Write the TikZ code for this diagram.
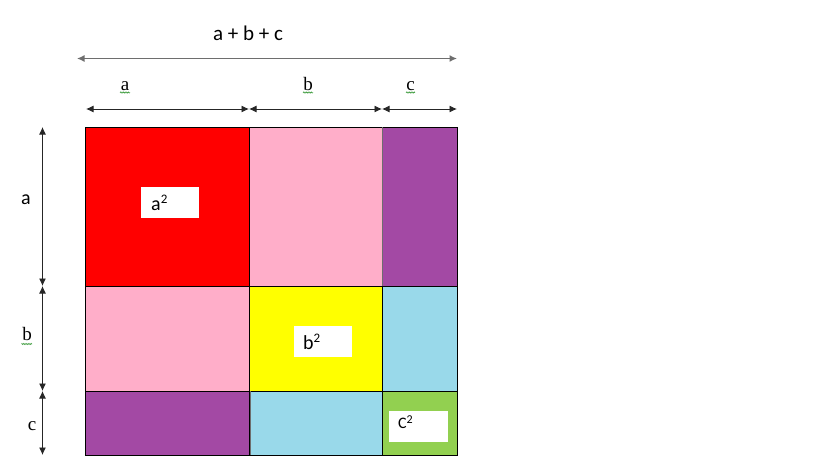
\documentclass[tikz,border=0pt]{standalone}
\usepackage{fontspec}
\setmainfont{Liberation Serif}
\newfontfamily\calib{Carlito}
\usetikzlibrary{arrows.meta,decorations.pathmorphing}
\definecolor{cred}{HTML}{FF0000}
\definecolor{cpink}{HTML}{FFAEC9}
\definecolor{cpurple}{HTML}{A349A4}
\definecolor{cyellow}{HTML}{FFFF00}
\definecolor{cblue}{HTML}{99D9EA}
\definecolor{cgreen}{HTML}{92D050}
\definecolor{cgray}{HTML}{6E6E6E}
\definecolor{csquig}{HTML}{3A9A3A}
\newcommand{\mysup}[1]{\raisebox{0.33em}{\fontsize{13}{15}\selectfont #1}}
\begin{document}
\begin{tikzpicture}[x=1pt,y=-1pt,
  cell/.style={draw=black,line width=1pt,inner sep=0pt,outer sep=0pt,anchor=north west},
  lbox/.style={fill=white,inner sep=0pt,anchor=north west},
  sq/.style={font=\calib\fontsize{20}{24}\selectfont,inner sep=0pt,anchor=base west},
  tip/.tip={Latex[length=7.5pt,width=7pt]},
  dim/.style={tip-tip,line width=0.9pt,draw=black!85},
  serlab/.style={font=\fontsize{19}{22}\selectfont,inner sep=0pt,anchor=base},
  squig/.style={draw=csquig,line width=0.5pt,decorate,decoration={zigzag,amplitude=0.6pt,segment length=1.6pt}}]
\useasboundingbox (0,0) rectangle (819,475);
% cells
\node[cell,fill=cred,minimum width=164pt,minimum height=159pt] (aa) at (85,127) {};
\node[cell,fill=cpink,minimum width=133pt,minimum height=159pt] (ab) at (249,127) {};
\node[cell,fill=cpurple,minimum width=75pt,minimum height=159pt] (ac) at (382,127) {};
\node[cell,fill=cpink,minimum width=164pt,minimum height=105pt] (ba) at (85,286) {};
\node[cell,fill=cyellow,minimum width=133pt,minimum height=105pt] (bb) at (249,286) {};
\node[cell,fill=cblue,minimum width=75pt,minimum height=105pt] (bc) at (382,286) {};
\node[cell,fill=cpurple,minimum width=164pt,minimum height=64pt] (ca) at (85,391) {};
\node[cell,fill=cblue,minimum width=133pt,minimum height=64pt] (cb) at (249,391) {};
\node[cell,fill=cgreen,minimum width=75pt,minimum height=64pt] (cc) at (382,391) {};
\draw[cgray,line width=1pt] (ab.north east) -- (ab.south east);
\draw[cgray,line width=1pt] ([xshift=1.5pt]ca.north east) -- ([xshift=1.5pt]ca.south east);
% label boxes
\node[lbox,minimum width=58pt,minimum height=31pt] (boxa) at (141,187) {};
\node[lbox,minimum width=58pt,minimum height=31pt] (boxb) at (294,326) {};
\node[lbox,minimum width=59pt,minimum height=31pt] (boxc) at (389,411) {};
\node[sq] (ta) at (151,210) {a\mysup{2}};
\node[sq] (tb) at (303,349) {b\mysup{2}};
\node[sq,font=\calib\fontsize{16}{19}\selectfont] (tc) at (398,428) {C\raisebox{0.3em}{\fontsize{12}{14}\selectfont 2}};
% top dimension
\coordinate (t0) at (77,58.5);
\coordinate (t1) at (457,58.5);
\draw[tip-tip,line width=1.3pt,draw=cgray] (t0) -- (t1);
\node[font=\calib\fontsize{21}{25}\selectfont,inner sep=0pt,anchor=base] (tsum) at (248,40.5) {a + b + c};
\coordinate (h0) at (86,109);
\coordinate (h1) at (249,109);
\coordinate (h2) at (382,109);
\coordinate (h3) at (457,109);
\draw[dim] (h0) -- (h1);
\draw[dim] (h1) -- (h2);
\draw[dim] (h2) -- (h3);
\node[serlab] (la) at (125,90.5) {a};
\node[serlab] (lb) at (308,90.5) {b};
\node[serlab] (lc) at (410.5,90.5) {c};
\draw[squig] (120,92.5) -- (130,92.5);
\draw[squig] (303,92.5) -- (313,92.5);
\draw[squig] (406,92.5) -- (415,92.5);
% left dimension
\coordinate (v0) at (42.5,127);
\coordinate (v1) at (42.5,286);
\coordinate (v2) at (42.5,391);
\coordinate (v3) at (42.5,455);
\draw[dim] (v0) -- (v1);
\draw[dim] (v1) -- (v2);
\draw[dim] (v2) -- (v3);
\node[font=\calib\fontsize{20}{24}\selectfont,inner sep=0pt,anchor=base] (va) at (26,204) {a};
\node[serlab] (vb) at (27,340.5) {b};
\node[serlab] (vc) at (32,430.5) {c};
\draw[squig] (21.5,344) -- (32,344);
\end{tikzpicture}
\end{document}
